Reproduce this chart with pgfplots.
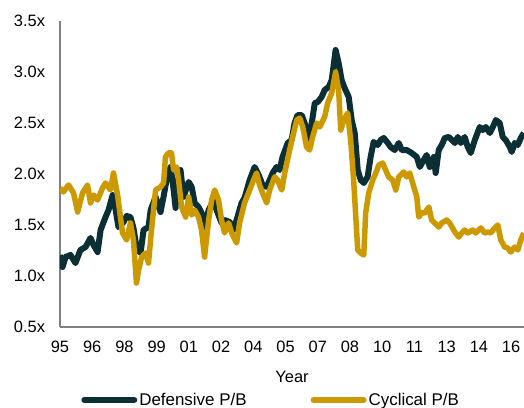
\documentclass[border=0pt]{standalone}
\usepackage{pgfplots}
\pgfplotsset{compat=1.18}
\usepackage{pgfplotstable}
\usepackage{fontspec}
\setmainfont{Liberation Sans}
\definecolor{defc}{HTML}{0B2F35}
\definecolor{cycc}{HTML}{CC9900}
\definecolor{axc}{HTML}{808080}
\pgfplotstableread{
x y
1995.00 1.206
1995.12 1.088
1995.26 1.186
1995.49 1.206
1995.72 1.127
1995.95 1.255
1996.19 1.284
1996.42 1.373
1996.56 1.304
1996.75 1.235
1996.89 1.451
1997.12 1.578
1997.26 1.647
1997.45 1.794
1997.59 1.647
1997.72 1.480
1997.96 1.529
1998.10 1.588
1998.28 1.578
1998.42 1.471
1998.56 1.284
1998.75 1.225
1998.89 1.451
1999.12 1.480
1999.22 1.647
1999.45 1.775
1999.68 1.627
1999.82 1.775
1999.96 1.941
2000.15 2.069
2000.29 1.843
2000.38 1.667
2000.43 1.873
2000.61 2.039
2000.75 1.775
2000.99 1.922
2001.13 1.873
2001.27 1.716
2001.45 1.676
2001.59 1.618
2001.73 1.480
2001.92 1.647
2002.15 1.745
2002.29 1.647
2002.52 1.520
2002.66 1.549
2002.90 1.529
2003.08 1.451
2003.22 1.549
2003.45 1.716
2003.59 1.765
2003.83 1.941
2004.06 2.069
2004.25 1.990
2004.43 1.892
2004.62 1.873
2004.76 1.941
2004.90 2.010
2005.08 2.069
2005.22 2.039
2005.36 2.167
2005.60 2.304
2005.78 2.333
2005.92 2.500
2006.06 2.578
2006.25 2.578
2006.39 2.500
2006.53 2.333
2006.72 2.500
2006.86 2.696
2007.00 2.706
2007.18 2.755
2007.32 2.824
2007.51 2.853
2007.65 2.922
2007.83 3.216
2007.97 3.088
2008.11 2.922
2008.25 2.843
2008.44 2.755
2008.58 2.529
2008.72 2.402
2008.86 2.039
2009.00 1.941
2009.14 1.912
2009.32 1.971
2009.46 2.167
2009.60 2.314
2009.79 2.284
2009.93 2.333
2010.07 2.353
2010.26 2.304
2010.39 2.265
2010.58 2.235
2010.77 2.304
2010.91 2.235
2011.14 2.235
2011.37 2.206
2011.61 2.167
2011.75 2.069
2011.93 2.137
2012.07 2.186
2012.21 2.069
2012.40 2.167
2012.49 2.010
2012.63 2.235
2012.77 2.284
2012.91 2.353
2013.10 2.363
2013.24 2.333
2013.38 2.304
2013.52 2.363
2013.66 2.304
2013.84 2.363
2013.98 2.265
2014.12 2.206
2014.31 2.333
2014.54 2.461
2014.68 2.431
2014.82 2.461
2015.01 2.402
2015.15 2.461
2015.29 2.529
2015.47 2.500
2015.61 2.363
2015.75 2.333
2015.94 2.265
2016.03 2.216
2016.17 2.304
2016.31 2.284
2016.45 2.353
2016.59 2.402
}\defensive
\pgfplotstableread{
x y
1995.00 1.863
1995.16 1.824
1995.40 1.892
1995.63 1.814
1995.82 1.627
1996.05 1.814
1996.28 1.892
1996.42 1.716
1996.56 1.794
1996.75 1.745
1996.98 1.863
1997.12 1.912
1997.35 1.843
1997.49 2.010
1997.68 1.794
1997.91 1.422
1998.10 1.353
1998.28 1.520
1998.42 1.353
1998.56 0.931
1998.66 1.059
1998.80 1.186
1998.98 1.225
1999.12 1.127
1999.26 1.451
1999.45 1.843
1999.68 1.873
1999.82 1.912
1999.91 2.167
2000.05 2.206
2000.19 2.206
2000.29 2.039
2000.43 2.069
2000.52 1.941
2000.66 1.676
2000.85 1.578
2000.99 1.775
2001.13 1.598
2001.27 1.647
2001.45 1.578
2001.59 1.451
2001.73 1.186
2001.92 1.549
2002.06 1.745
2002.20 1.843
2002.38 1.745
2002.52 1.549
2002.66 1.422
2002.85 1.520
2002.99 1.422
2003.22 1.324
2003.36 1.520
2003.59 1.716
2003.83 1.843
2004.01 1.941
2004.15 2.010
2004.29 1.892
2004.43 1.814
2004.62 1.716
2004.76 1.843
2004.99 1.971
2005.13 1.941
2005.32 1.843
2005.46 2.010
2005.69 2.235
2005.83 2.363
2006.02 2.529
2006.16 2.549
2006.30 2.461
2006.48 2.265
2006.62 2.235
2006.76 2.363
2006.95 2.500
2007.09 2.461
2007.32 2.559
2007.46 2.696
2007.65 2.794
2007.83 3.000
2007.97 2.824
2008.07 2.431
2008.21 2.529
2008.39 2.598
2008.53 2.333
2008.67 1.941
2008.86 1.255
2009.00 1.225
2009.14 1.206
2009.23 1.618
2009.37 1.814
2009.56 1.941
2009.70 2.010
2009.84 2.088
2010.02 2.108
2010.16 2.039
2010.30 1.971
2010.49 1.941
2010.63 1.843
2010.77 1.971
2011.00 2.020
2011.14 1.971
2011.28 2.010
2011.47 1.873
2011.61 1.775
2011.70 1.578
2011.84 1.618
2011.98 1.618
2012.17 1.676
2012.30 1.549
2012.44 1.520
2012.63 1.480
2012.77 1.520
2013.00 1.549
2013.14 1.520
2013.38 1.431
2013.56 1.382
2013.70 1.422
2013.84 1.451
2013.98 1.422
2014.21 1.451
2014.35 1.422
2014.59 1.471
2014.77 1.422
2014.91 1.431
2015.05 1.422
2015.24 1.471
2015.38 1.500
2015.52 1.353
2015.70 1.284
2015.84 1.275
2015.98 1.235
2016.17 1.284
2016.31 1.255
2016.45 1.353
2016.59 1.422
}\cyclical
\begin{document}
\begin{tikzpicture}
\begin{axis}[
  scale only axis,
  width=464bp, height=306bp,
  xmin=1995, xmax=2016.6,
  ymin=0.5, ymax=3.5,
  axis x line*=bottom,
  axis y line*=left,
  axis line style={draw=axc, line width=1.5bp},
  major tick length=0pt,
  xtick={1995,1996.5,1998,1999.5,2001,2002.5,2004,2005.5,2007,2008.5,2010,2011.5,2013,2014.5,2016},
  xticklabels={95,96,98,99,01,02,04,05,07,08,10,11,13,14,16},
  ytick={0.5,1,1.5,2,2.5,3,3.5},
  yticklabels={0.5x,1.0x,1.5x,2.0x,2.5x,3.0x,3.5x},
  tick label style={font=\fontsize{16.5}{19}\selectfont, text=black},
  xticklabel style={yshift=-11bp},
  yticklabel style={xshift=-11.5bp},
  xlabel={Year},
  xlabel style={font=\fontsize{16.5}{19}\selectfont, at={(axis description cs:0.5,0)}, anchor=center, yshift=-49.7bp},
  legend columns=2,
  legend style={draw=none, fill=none, at={(axis description cs:0.455,0)}, anchor=center, yshift=-73bp,
    font=\fontsize{17}{20}\selectfont,
    /tikz/every even column/.append style={column sep=62bp},
    inner sep=0pt},
  legend image code/.code={\draw[#1, line width=6bp, line cap=round] (0bp,0bp) -- (50bp,0bp);},
  every axis plot/.append style={line join=round},
]
\addplot[defc, line width=6bp] table[x=x,y=y] {\defensive};
\addlegendentry{Defensive P/B}
\addplot[cycc, line width=5.5bp] table[x=x,y=y] {\cyclical};
\addlegendentry{Cyclical P/B}
\end{axis}
\pgfresetboundingbox
\useasboundingbox (-60bp,-81bp) rectangle (464bp,327bp);
\end{tikzpicture}
\end{document}
